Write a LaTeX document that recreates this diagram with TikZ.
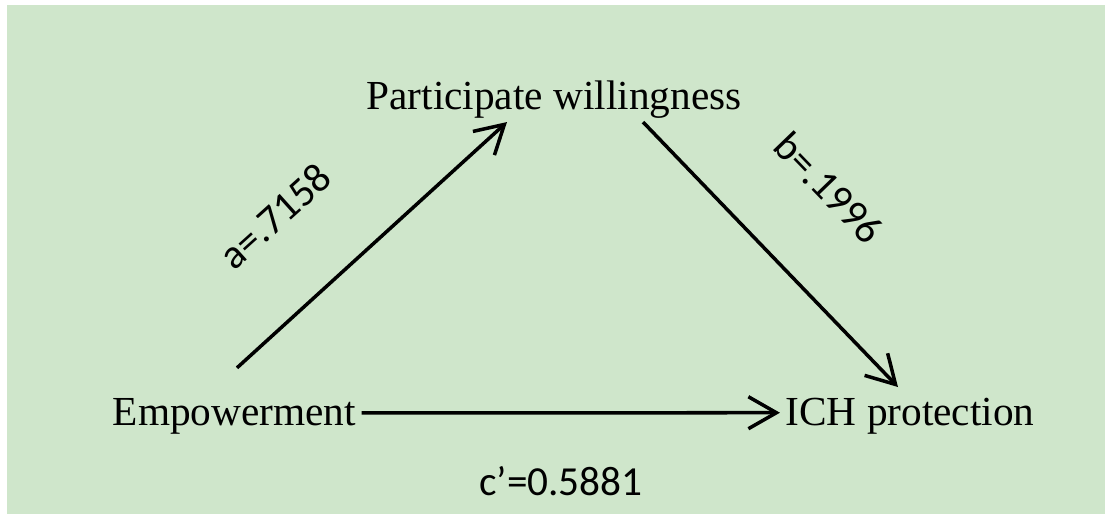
\documentclass[tikz,border=0pt]{standalone}
\usepackage{fontspec}
\setmainfont{Liberation Serif}
\newfontfamily\coeffont{Carlito}
\usetikzlibrary{arrows.meta}

\definecolor{bggreen}{RGB}{207,230,203}

\tikzset{
    var/.style={font=\fontsize{23.5}{28}\selectfont, anchor=base, inner sep=3pt},
    coef/.style={font=\coeffont\fontsize{23.5}{28}\selectfont},
    arr/.style={line width=2pt, -{Straight Barb[length=0.56cm, width=0.64cm, line width=2pt]}},
}

\begin{document}
\begin{tikzpicture}
    \useasboundingbox (0, 0) rectangle (22.1, 10.3);
    \fill[bggreen] (0.14, 0.02) rectangle (22.1, 10.2);

    % Variables
    \node[var] (pw) at (11.08, 8.1) {Participate willingness};
    \node[var] (emp) at (4.69, 1.78) {Empowerment};
    \node[var] (ich) at (18.2, 1.78) {ICH protection};

    % Paths
    \draw[arr] ([xshift=0.05cm, yshift=0.51cm]emp.north) -- ([xshift=-0.94cm, yshift=0.05cm]pw.south);
    \draw[arr] ([xshift=1.78cm, yshift=0.05cm]pw.south) -- ([xshift=-0.24cm, yshift=0.12cm]ich.north);
    \draw[arr] ([yshift=0.08cm]emp.east) -- ([yshift=0.08cm]ich.west);

    % Coefficients
    \node[coef, rotate=42] (a) at (5.5, 5.98) {a=.7158};
    \node[coef, rotate=-46] (b) at (16.58, 6.54) {b=.1996};
    \node[coef, anchor=base] (c) at (11.22, 0.38) {c’=0.5881};
\end{tikzpicture}
\end{document}
